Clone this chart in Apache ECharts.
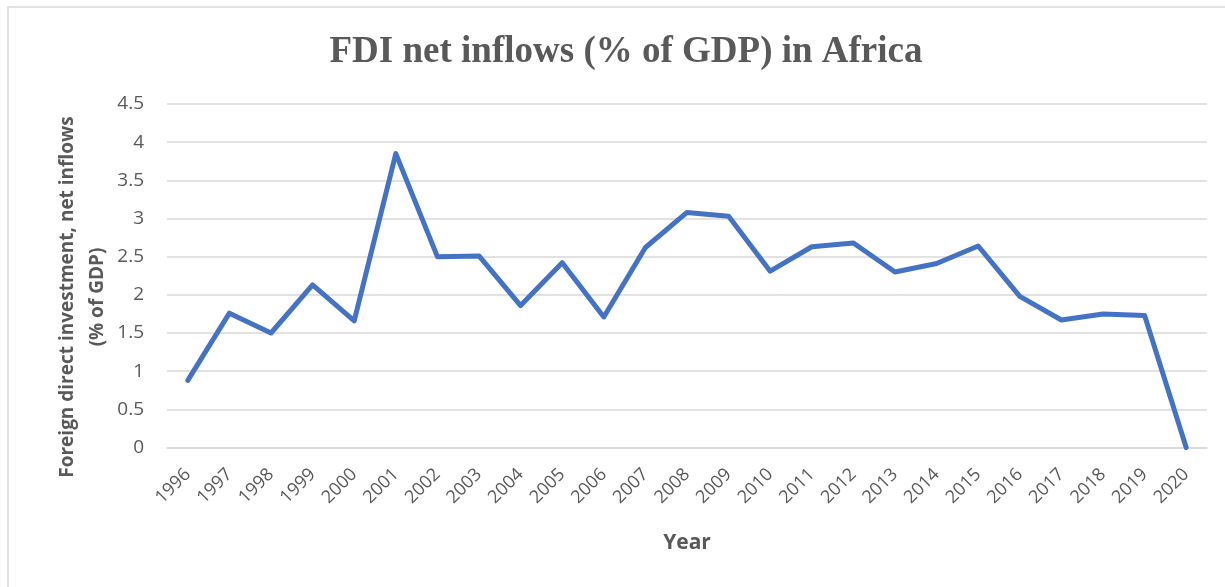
<!DOCTYPE html>
<html>
<head>
<meta charset="utf-8">
<script src="https://cdn.jsdelivr.net/npm/echarts@6/dist/echarts.min.js"></script>
<style>
  html, body { margin: 0; padding: 0; background: #ffffff; }
  #chart { width: 1225px; height: 587px; }
</style>
</head>
<body>
<div id="chart"></div>
<script>
// Years on the category axis
const years = ['1996','1997','1998','1999','2000','2001','2002','2003','2004','2005','2006','2007',
               '2008','2009','2010','2011','2012','2013','2014','2015','2016','2017','2018','2019','2020'];
// FDI net inflows, % of GDP
const fdiShare = [0.88, 1.76, 1.50, 2.13, 1.66, 3.85, 2.50, 2.51, 1.86, 2.42, 1.71, 2.62,
                  3.08, 3.03, 2.31, 2.63, 2.68, 2.30, 2.41, 2.64, 1.98, 1.67, 1.75, 1.73, 0.00];
// Value axis ticks
const yTicks = { min: 0, max: 4.5, step: 0.5 };

const chart = echarts.init(document.getElementById('chart'), null, { renderer: 'canvas' });
const grey = '#595959';

chart.setOption({
  backgroundColor: '#ffffff',
  animation: false,
  title: {
    text: 'FDI net inflows (% of GDP) in Africa',
    left: 621, top: 29, textAlign: 'center',
    textStyle: { fontFamily: 'Liberation Serif', fontWeight: 'bold', fontSize: 37, color: grey }
  },
  graphic: [
    {
      type: 'rect', silent: true, z: -1,
      shape: { x: 8, y: 7, width: 1240, height: 620 },
      style: { fill: 'none', stroke: '#d9d9d9', lineWidth: 1.5 }
    },
    {
      type: 'text', silent: true,
      x: 83, y: 297, rotation: Math.PI / 2,
      style: {
        text: 'Foreign direct investment, net inflows\n(% of GDP)',
        fontFamily: 'Open Sans', fontWeight: 'bold', fontSize: 19, lineHeight: 30,
        fill: grey, align: 'center', verticalAlign: 'middle'
      }
    }
  ],
  grid: { left: 167, right: 18, top: 104, height: 343.5, containLabel: false },
  xAxis: {
    type: 'category',
    data: years,
    boundaryGap: true,
    name: 'Year',
    nameLocation: 'middle',
    nameGap: 85,
    nameTextStyle: { fontFamily: 'Open Sans', fontWeight: 'bold', fontSize: 21, color: grey },
    axisLine: { show: true, lineStyle: { color: '#d9d9d9', width: 1.5 } },
    axisTick: { show: false },
    axisLabel: {
      interval: 0, rotate: 45, margin: 24,
      fontFamily: 'Open Sans', fontSize: 18, color: grey
    }
  },
  yAxis: {
    type: 'value',
    min: yTicks.min, max: yTicks.max, interval: yTicks.step,
    axisLine: { show: false },
    axisTick: { show: false },
    axisLabel: { margin: 23, fontFamily: 'Open Sans', fontSize: 19, color: grey },
    splitLine: { lineStyle: { color: '#d9d9d9', width: 1.5 } }
  },
  series: [{
    type: 'line',
    data: fdiShare,
    symbol: 'none',
    lineStyle: { color: '#4472C4', width: 5, cap: 'round', join: 'round' }
  }]
});
</script>
</body>
</html>
